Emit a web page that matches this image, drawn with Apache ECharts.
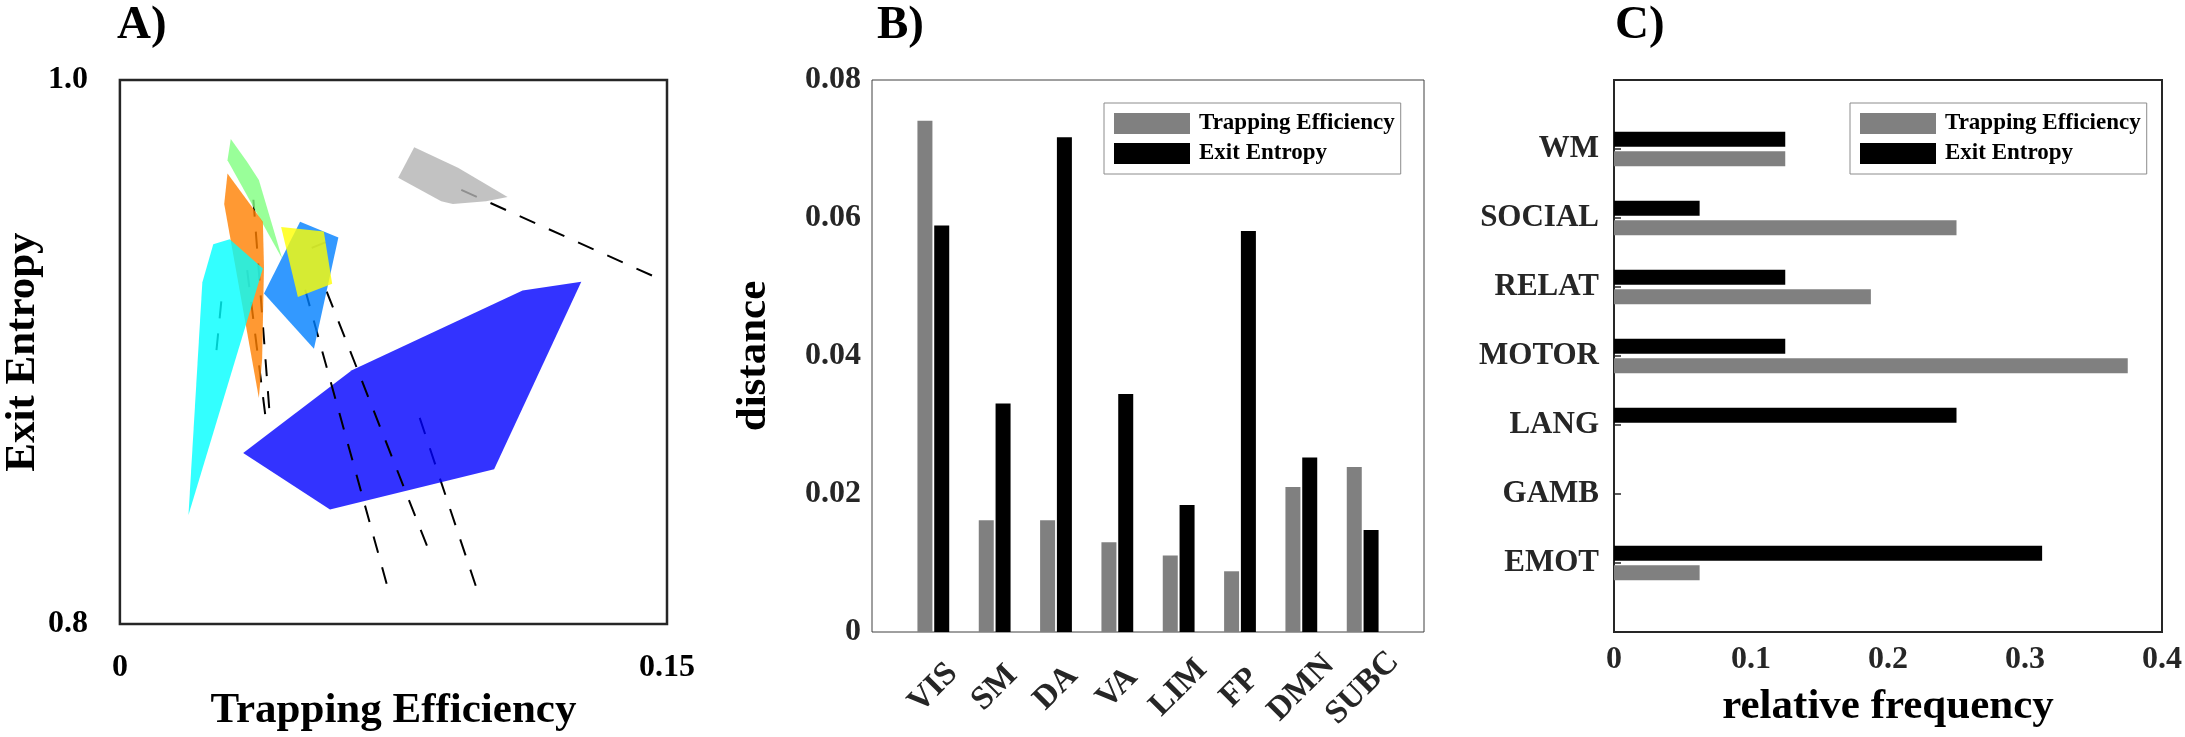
<!DOCTYPE html>
<html><head><meta charset="utf-8">
<script src="https://cdn.jsdelivr.net/npm/echarts@6/dist/echarts.min.js"></script>
<style>html,body{margin:0;padding:0;background:#fff}#c{width:2185px;height:737px}</style>
</head><body><div id="c"></div>
<script>
// ---------- Panel A: hulls (Trapping Efficiency, Exit Entropy) ----------
const hullGreen  = [[0.0304,0.9783],[0.0349,0.9699],[0.0381,0.9632],[0.0445,0.9343],[0.0295,0.9705]];
const hullOrange = [[0.0295,0.9656],[0.0392,0.9479],[0.0395,0.9313],[0.0390,0.8975],[0.0381,0.8831],[0.0286,0.9544]];
const hullCyan   = [[0.0256,0.9396],[0.0301,0.9415],[0.0392,0.9307],[0.0188,0.8401],[0.0226,0.9256]];
const hullBlue   = [[0.0338,0.8629],[0.0636,0.8933],[0.1104,0.9226],[0.1265,0.9258],[0.1026,0.8569],[0.0576,0.8421]];
const hullAzure  = [[0.0494,0.9479],[0.0599,0.9421],[0.0532,0.9012],[0.0395,0.9215]];
const hullYellow = [[0.0442,0.9460],[0.0559,0.9443],[0.0582,0.9251],[0.0488,0.9202]];
const hullGray   = [[0.0763,0.9641],[0.0807,0.9753],[0.0927,0.9677],[0.1063,0.9570],[0.1004,0.9554],[0.0913,0.9544],[0.0881,0.9554]];
// dashed trajectories
const dashGray   = [[0.0936,0.9596],[0.1476,0.9271]];
const dashBlue   = [[0.0822,0.8758],[0.0978,0.8131]];
const dashCyan   = [[0.0278,0.9186],[0.0262,0.8969]];
const dashYellow = [[0.0526,0.9383],[0.0563,0.9403]];
const dashOrA    = [[0.0366,0.9560],[0.0410,0.8782]];
const dashOrB    = [[0.0349,0.9301],[0.0399,0.8764]];
const dashAz1    = [[0.0567,0.9222],[0.0849,0.8264]];
const dashAz2    = [[0.0508,0.9229],[0.0736,0.8126]];
const aXTicks = [0, 0.15], aXTickLabels = ['0', '0.15'];
const aYTicks = [0.8, 1.0], aYTickLabels = ['0.8', '1.0'];

// ---------- Panel B: distance per network ----------
const bCategories = ['VIS','SM','DA','VA','LIM','FP','DMN','SUBC'];
const bTrapping = [0.0741, 0.0162, 0.0162, 0.0130, 0.0111, 0.0088, 0.0210, 0.0239];
const bExit     = [0.0589, 0.0331, 0.0717, 0.0345, 0.0184, 0.0581, 0.0253, 0.0148];
const bYTicks = [0, 0.02, 0.04, 0.06, 0.08], bYTickLabels = ['0','0.02','0.04','0.06','0.08'];

// ---------- Panel C: relative frequency per task ----------
const cCategories = ['EMOT','GAMB','LANG','MOTOR','RELAT','SOCIAL','WM'];
const cTrapping = [0.0625, 0, 0, 0.375, 0.1875, 0.25, 0.125];
const cExit     = [0.3125, 0, 0.25, 0.125, 0.125, 0.0625, 0.125];
const cXTicks = [0, 0.1, 0.2, 0.3, 0.4], cXTickLabels = ['0','0.1','0.2','0.3','0.4'];

const seriesNames = ['Trapping Efficiency', 'Exit Entropy'];

// ---------------------------------------------------------------
const FONT = 'Liberation Serif';
const TICKC = '#262626';
function lab(ticks, labels) {
  return v => { const i = ticks.findIndex(t => Math.abs(t - v) < 1e-9); return i >= 0 ? labels[i] : ''; };
}
const pad = arr => [null, ...arr, null];
const padCat = arr => ['', ...arr, ''];

function hull(pts, color, z) {
  return {
    type: 'custom', xAxisIndex: 0, yAxisIndex: 0, z: z, silent: true,
    data: pts,
    renderItem: (params, api) => {
      if (params.dataIndex !== 0) return null;
      return { type: 'polygon', shape: { points: pts.map(p => api.coord(p)) }, style: { fill: color } };
    }
  };
}
function dash(pts, z) {
  return {
    type: 'line', xAxisIndex: 0, yAxisIndex: 0, z: z, silent: true, symbol: 'none',
    data: pts, lineStyle: { color: '#000', width: 2, type: [17, 15] }
  };
}
const tickFont = { fontFamily: FONT, fontSize: 32, fontWeight: 'bold', color: TICKC };
const catFont = { fontFamily: FONT, fontSize: 31, fontWeight: 'bold', color: TICKC };
const titleFont = { fontFamily: FONT, fontSize: 43, fontWeight: 'bold', color: '#000' };
const letterFont = { fontFamily: FONT, fontSize: 47, fontWeight: 'bold', color: '#000' };
const legendBase = {
  top: 103, orient: 'vertical', data: seriesNames, icon: 'rect', itemWidth: 76, itemHeight: 21, itemGap: 7,
  symbolKeepAspect: false, padding: [9, 6, 9, 10], borderColor: '#8c8c8c', borderWidth: 1, selectedMode: false,
  textStyle: { fontFamily: FONT, fontSize: 23, fontWeight: 'bold', color: '#000', padding: [0, 0, 0, 4] }
};

const chart = echarts.init(document.getElementById('c'), null, { renderer: 'canvas' });
chart.setOption({
  animation: false,
  backgroundColor: '#fff',
  title: [
    { text: 'A)', left: 117, top: 2, padding: 0, textStyle: letterFont },
    { text: 'B)', left: 877, top: 2, padding: 0, textStyle: letterFont },
    { text: 'C)', left: 1615, top: 2, padding: 0, textStyle: letterFont }
  ],
  legend: [
    Object.assign({ left: 1104 }, legendBase),
    Object.assign({ left: 1850 }, legendBase)
  ],
  grid: [
    { left: 117, top: 80, width: 550, height: 552, show: true, borderColor: '#262626', borderWidth: 2.5, backgroundColor: 'transparent' },
    { left: 872, top: 80, width: 552, height: 552, show: true, borderColor: '#404040', borderWidth: 1, backgroundColor: 'transparent' },
    { left: 1614, top: 80, width: 551, height: 552, show: true, borderColor: '#262626', borderWidth: 2, backgroundColor: 'transparent' }
  ],
  xAxis: [
    { gridIndex: 0, type: 'value', min: aXTicks[0], max: aXTicks[1], interval: aXTicks[1] - aXTicks[0],
      axisLine: { show: false }, axisTick: { show: false }, splitLine: { show: false },
      axisLabel: Object.assign({}, tickFont, { margin: 28, color: '#000', formatter: lab(aXTicks, aXTickLabels) }),
      name: 'Trapping Efficiency', nameLocation: 'middle', nameGap: 53, nameTextStyle: titleFont },
    { gridIndex: 1, type: 'category', data: padCat(bCategories), boundaryGap: false,
      axisLine: { show: false }, axisTick: { show: false }, splitLine: { show: false },
      axisLabel: Object.assign({}, catFont, { fontSize: 33, interval: 0, rotate: 45, align: 'center', verticalAlign: 'middle', margin: 56 }) },
    { gridIndex: 2, type: 'value', min: 0, max: 0.4, interval: 0.05,
      axisLine: { show: false }, splitLine: { show: false },
      axisTick: { inside: true, length: 7, lineStyle: { color: TICKC, width: 1.5 } },
      axisLabel: Object.assign({}, tickFont, { margin: 12, formatter: lab(cXTicks, cXTickLabels) }),
      name: 'relative frequency', nameLocation: 'middle', nameGap: 53, nameTextStyle: titleFont },
    { gridIndex: 2, type: 'value', position: 'top', min: 0, max: 0.4, interval: 0.05,
      axisLine: { show: false }, splitLine: { show: false }, axisLabel: { show: false },
      axisTick: { inside: true, length: 7, lineStyle: { color: TICKC, width: 1.5 } } }
  ],
  yAxis: [
    { gridIndex: 0, type: 'value', min: aYTicks[0], max: aYTicks[1], interval: aYTicks[1] - aYTicks[0],
      axisLine: { show: false }, axisTick: { show: false }, splitLine: { show: false },
      axisLabel: Object.assign({}, tickFont, { margin: 32, color: '#000', formatter: lab(aYTicks, aYTickLabels) }),
      name: 'Exit Entropy', nameLocation: 'middle', nameRotate: 90, nameGap: 72, nameTextStyle: titleFont },
    { gridIndex: 1, type: 'value', min: 0, max: 0.08, interval: 0.01,
      axisLine: { show: false }, splitLine: { show: false },
      axisTick: { inside: true, length: 7, lineStyle: { color: TICKC, width: 1 } },
      axisLabel: Object.assign({}, tickFont, { margin: 11, formatter: lab(bYTicks, bYTickLabels) }),
      name: 'distance', nameLocation: 'middle', nameRotate: 90, nameGap: 97, nameTextStyle: titleFont },
    { gridIndex: 1, type: 'value', position: 'right', min: 0, max: 0.08, interval: 0.01,
      axisLine: { show: false }, splitLine: { show: false }, axisLabel: { show: false },
      axisTick: { inside: true, length: 7, lineStyle: { color: TICKC, width: 1 } } },
    { gridIndex: 2, type: 'category', data: padCat(cCategories), boundaryGap: false,
      axisLine: { show: false }, splitLine: { show: false },
      axisTick: { inside: true, length: 7, lineStyle: { color: TICKC, width: 1.5 } },
      axisLabel: Object.assign({}, catFont, { interval: 0, margin: 15 }) }
  ],
  series: [
    // dashes lying behind the hulls
    dash(dashGray, 1), dash(dashBlue, 1), dash(dashCyan, 1), dash(dashYellow, 1), dash(dashOrA, 1), dash(dashOrB, 1),
    hull(hullGreen,  'rgba(128,255,128,0.8)', 2),
    hull(hullOrange, 'rgba(255,128,0,0.8)', 3),
    hull(hullCyan,   'rgba(0,255,255,0.8)', 4),
    hull(hullBlue,   'rgba(0,0,255,0.8)', 5),
    dash(dashAz1, 6), dash(dashAz2, 6),
    hull(hullAzure,  'rgba(0,128,255,0.8)', 7),
    hull(hullYellow, 'rgba(255,255,0,0.8)', 8),
    hull(hullGray,   'rgba(179,179,179,0.8)', 9),
    // panel B
    { type: 'bar', name: seriesNames[0], xAxisIndex: 1, yAxisIndex: 1, data: pad(bTrapping), barWidth: 15, barGap: '12%',
      itemStyle: { color: '#808080' } },
    { type: 'bar', name: seriesNames[1], xAxisIndex: 1, yAxisIndex: 1, data: pad(bExit), barWidth: 15, barGap: '12%',
      itemStyle: { color: '#000000' } },
    // panel C (Exit Entropy drawn above Trapping Efficiency in each group)
    { type: 'bar', name: seriesNames[1], xAxisIndex: 2, yAxisIndex: 3, data: pad(cExit), barWidth: 15, barGap: '30%',
      itemStyle: { color: '#000000' } },
    { type: 'bar', name: seriesNames[0], xAxisIndex: 2, yAxisIndex: 3, data: pad(cTrapping), barWidth: 15, barGap: '30%',
      itemStyle: { color: '#808080' } }
  ]
});
</script>
</body></html>
